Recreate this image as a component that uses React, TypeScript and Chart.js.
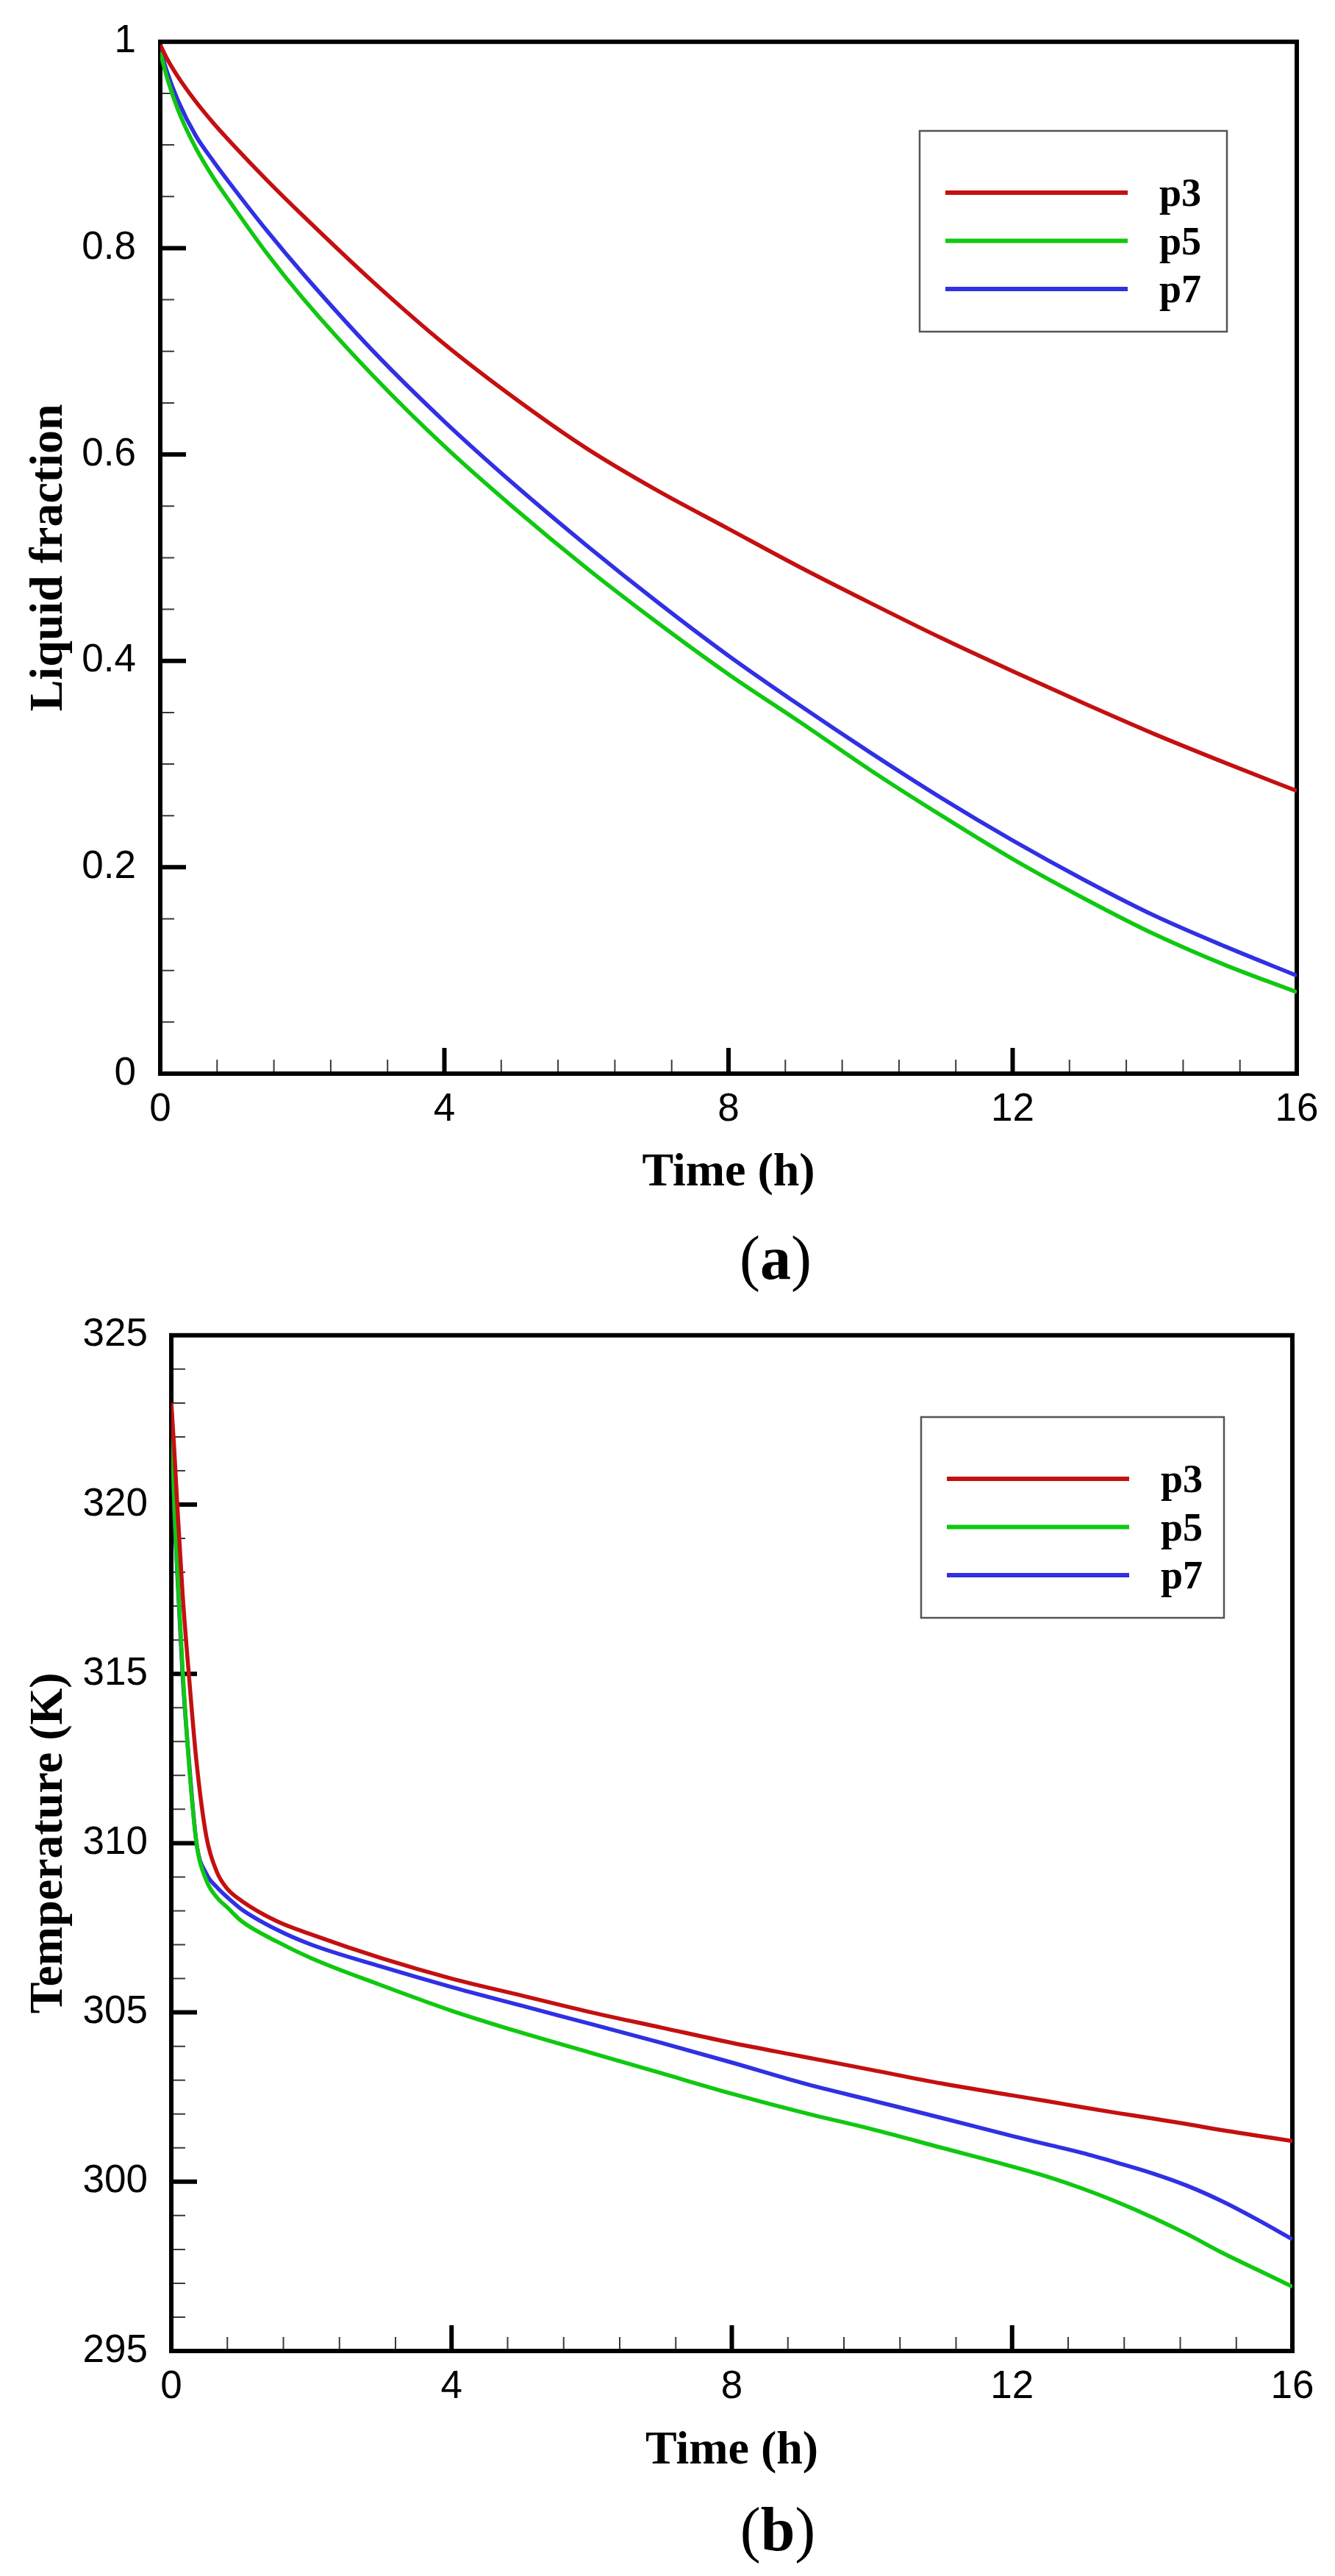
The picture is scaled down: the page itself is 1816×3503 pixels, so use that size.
import React, { useEffect, useRef } from 'react';
import { Chart, registerables } from 'chart.js';

Chart.register(...registerables);

// ---------- data ----------
const seriesNames = ['p3', 'p5', 'p7'];

// (a) liquid fraction vs time
const timeA = [0, 0.1, 0.25, 0.5, 0.75, 1, 1.5, 2, 3, 4, 5, 6, 7, 8, 9, 10, 11, 12, 13, 14, 15, 16];
const p3Liquid = [0.997, 0.983, 0.966, 0.942, 0.921, 0.902, 0.866, 0.832, 0.767, 0.707, 0.654, 0.606, 0.565, 0.528, 0.491, 0.456, 0.422, 0.39, 0.359, 0.329, 0.301, 0.274];
const p5Liquid = [0.99, 0.964, 0.934, 0.897, 0.868, 0.843, 0.795, 0.752, 0.676, 0.608, 0.547, 0.49, 0.437, 0.387, 0.341, 0.294, 0.25, 0.208, 0.17, 0.135, 0.105, 0.079];
const p7Liquid = [0.993, 0.97, 0.943, 0.909, 0.884, 0.861, 0.817, 0.776, 0.7, 0.632, 0.57, 0.512, 0.457, 0.405, 0.357, 0.311, 0.267, 0.226, 0.188, 0.153, 0.123, 0.095];

// (b) temperature vs time
const timeB = [0, 0.04, 0.08, 0.16, 0.25, 0.36, 0.5, 0.65, 0.8, 1, 1.5, 2, 3, 4, 5, 6, 7, 8, 9, 10, 11, 12, 12.5, 13, 13.5, 14, 14.5, 15, 15.5, 16];
const p3Temp = [323.0, 321.7, 320.2, 317.4, 315.0, 312.4, 310.2, 309.15, 308.65, 308.3, 307.7, 307.3, 306.6, 306.0, 305.5, 305.0, 304.55, 304.1, 303.7, 303.3, 302.9, 302.55, 302.38, 302.2, 302.03, 301.87, 301.7, 301.52, 301.36, 301.2];
const p5Temp = [323.0, 320.2, 318.3, 315.2, 312.4, 310.0, 308.9, 308.4, 308.1, 307.7, 307.1, 306.6, 305.8, 305.05, 304.4, 303.8, 303.2, 302.6, 302.05, 301.55, 301.0, 300.45, 300.15, 299.8, 299.4, 298.95, 298.45, 297.9, 297.4, 296.9];
const p7Temp = [323.0, 320.0, 318.2, 315.0, 312.5, 310.0, 309.1, 308.7, 308.4, 308.05, 307.45, 307.0, 306.35, 305.75, 305.2, 304.65, 304.1, 303.52, 302.92, 302.4, 301.88, 301.35, 301.1, 300.85, 300.56, 300.25, 299.88, 299.42, 298.88, 298.3];

// tick labels
const timeTicks = [0, 4, 8, 12, 16];
const liquidTicks = [0, 0.2, 0.4, 0.6, 0.8, 1];
const tempTicks = [295, 300, 305, 310, 315, 320, 325];

// ---------- styles ----------
const seriesColors = ['#c41010', '#10c810', '#3030e4'];
const SANS = "'Liberation Sans', Arial, sans-serif";
const SERIF = "'Liberation Serif', 'Times New Roman', serif";

const axisFrame = {
  id: 'axisFrame',
  beforeDatasetsDraw(chart: any, _args: any, opts: any) {
    const { ctx, chartArea, scales } = chart;
    const { left, right, top, bottom } = chartArea;
    const xs = scales.x;
    const ys = scales.y;
    ctx.save();
    ctx.lineCap = 'butt';
    ctx.strokeStyle = '#3a3a3a';
    ctx.lineWidth = 2;
    ctx.beginPath();
    const xr = xs.max - xs.min;
    for (let i = 1; i * opts.xMinor < xr - 1e-9; i++) {
      const px = xs.getPixelForValue(xs.min + i * opts.xMinor);
      ctx.moveTo(px, bottom);
      ctx.lineTo(px, bottom - opts.minorLen);
    }
    const yr = ys.max - ys.min;
    for (let i = 1; i * opts.yMinor < yr - 1e-9; i++) {
      const py = ys.getPixelForValue(ys.min + i * opts.yMinor);
      ctx.moveTo(left, py);
      ctx.lineTo(left + opts.minorLen, py);
    }
    ctx.stroke();
    ctx.strokeStyle = '#000';
    ctx.lineWidth = 6;
    ctx.beginPath();
    xs.ticks.forEach((t: any) => {
      if (t.value > xs.min && t.value < xs.max) {
        const px = xs.getPixelForValue(t.value);
        ctx.moveTo(px, bottom);
        ctx.lineTo(px, bottom - opts.majorLen);
      }
    });
    ys.ticks.forEach((t: any) => {
      if (t.value > ys.min && t.value < ys.max) {
        const py = ys.getPixelForValue(t.value);
        ctx.moveTo(left, py);
        ctx.lineTo(left + opts.majorLen, py);
      }
    });
    ctx.stroke();
    ctx.lineJoin = 'miter';
    ctx.lineWidth = 6;
    ctx.strokeRect(left, top, right - left, bottom - top);
    ctx.restore();
  },
};

const boxLegend = {
  id: 'boxLegend',
  afterDatasetsDraw(chart: any, _args: any, opts: any) {
    const { ctx } = chart;
    const { x, y, w, h } = opts;
    ctx.save();
    ctx.fillStyle = '#fff';
    ctx.fillRect(x, y, w, h);
    ctx.strokeStyle = '#555';
    ctx.lineWidth = 2.5;
    ctx.strokeRect(x, y, w, h);
    chart.data.datasets.forEach((ds: any, i: number) => {
      const ly = y + 84 + i * 65.5;
      ctx.strokeStyle = ds.borderColor;
      ctx.lineWidth = 6;
      ctx.beginPath();
      ctx.moveTo(x + 35, ly);
      ctx.lineTo(x + 283, ly);
      ctx.stroke();
      ctx.fillStyle = '#000';
      ctx.font = `bold 54px ${SERIF}`;
      ctx.textAlign = 'left';
      ctx.textBaseline = 'alphabetic';
      ctx.fillText(ds.label, x + 326, ly + 18);
    });
    ctx.restore();
  },
};

type PanelCfg = {
  top: number;
  height: number;
  padTop: number;
  padRight: number;
  yWidth: number;
  xHeight: number;
  yTickPad: number;
  xTitlePadBottom: number;
  yTitle: string;
  times: number[];
  series: number[][];
  yMin: number;
  yMax: number;
  yTickVals: number[];
  yMinor: number;
  legend: { x: number; y: number; w: number; h: number };
};

function Panel({ cfg }: { cfg: PanelCfg }) {
  const ref = useRef<HTMLCanvasElement>(null);
  useEffect(() => {
    const canvas = ref.current!;
    const chart = new Chart(canvas, {
      type: 'line',
      data: {
        datasets: cfg.series.map((vals, i) => ({
          label: seriesNames[i],
          data: cfg.times.map((t, j) => ({ x: t, y: vals[j] })),
          borderColor: seriesColors[i],
          backgroundColor: seriesColors[i],
          borderWidth: 5.5,
          pointRadius: 0,
          fill: false,
          cubicInterpolationMode: 'monotone',
        })),
      },
      options: {
        responsive: false,
        animation: false,
        devicePixelRatio: 1,
        layout: { padding: { top: cfg.padTop, right: cfg.padRight, left: 0, bottom: 0 } },
        plugins: {
          legend: { display: false },
          tooltip: { enabled: false },
          axisFrame: { xMinor: 0.8, yMinor: cfg.yMinor, minorLen: 19, majorLen: 35 },
          boxLegend: cfg.legend,
        } as any,
        scales: {
          x: {
            type: 'linear',
            min: 0,
            max: 16,
            grid: { display: false },
            border: { display: false },
            afterBuildTicks: (s: any) => {
              s.ticks = timeTicks.map((v) => ({ value: v }));
            },
            afterFit: (s: any) => {
              s.height = cfg.xHeight;
            },
            ticks: {
              autoSkip: false,
              maxRotation: 0,
              padding: 10,
              color: '#000',
              font: { family: SANS, size: 53, lineHeight: 1.2 },
              callback: (v: any) => `${v}`,
            },
            title: {
              display: true,
              text: 'Time (h)',
              color: '#000',
              font: { family: SERIF, size: 64, weight: 'bold', lineHeight: 1 },
              padding: { top: 0, bottom: cfg.xTitlePadBottom },
            },
          },
          y: {
            type: 'linear',
            min: cfg.yMin,
            max: cfg.yMax,
            grid: { display: false },
            border: { display: false },
            afterBuildTicks: (s: any) => {
              s.ticks = cfg.yTickVals.map((v) => ({ value: v }));
            },
            afterFit: (s: any) => {
              s.width = cfg.yWidth;
            },
            ticks: {
              autoSkip: false,
              padding: cfg.yTickPad,
              color: '#000',
              font: { family: SANS, size: 53, lineHeight: 1.2 },
              callback: (v: any) => `${+Number(v).toFixed(2)}`,
            },
            title: {
              display: true,
              text: cfg.yTitle,
              color: '#000',
              font: { family: SERIF, size: 64, weight: 'bold', lineHeight: 1 },
              padding: { top: 35, bottom: 0 },
            },
          },
        },
      } as any,
      plugins: [axisFrame, boxLegend],
    });
    return () => chart.destroy();
  }, [cfg]);
  return (
    <canvas
      ref={ref}
      width={1816}
      height={cfg.height}
      style={{ position: 'absolute', left: 0, top: cfg.top, width: 1816, height: cfg.height }}
    />
  );
}

const panelA: PanelCfg = {
  top: 0,
  height: 1660,
  padTop: 52,
  padRight: 52,
  yWidth: 218,
  xHeight: 200,
  yTickPad: 25,
  xTitlePadBottom: 33,
  yTitle: 'Liquid fraction',
  times: timeA,
  series: [p3Liquid, p5Liquid, p7Liquid],
  yMin: 0,
  yMax: 1,
  yTickVals: liquidTicks,
  yMinor: 0.05,
  legend: { x: 1251, y: 178, w: 418, h: 273 },
};

const panelB: PanelCfg = {
  top: 1760,
  height: 1640,
  padTop: 51,
  padRight: 58,
  yWidth: 233,
  xHeight: 203,
  yTickPad: 24,
  xTitlePadBottom: 35,
  yTitle: 'Temperature (K)',
  times: timeB,
  series: [p3Temp, p5Temp, p7Temp],
  yMin: 295,
  yMax: 325,
  yTickVals: tempTicks,
  yMinor: 1,
  legend: { x: 1253, y: 167, w: 412, h: 273 },
};

function Caption({ letter, centerX, top }: { letter: string; centerX: number; top: number }) {
  return (
    <div
      style={{
        position: 'absolute',
        left: centerX - 200,
        width: 400,
        top,
        textAlign: 'center',
        fontFamily: SERIF,
        fontSize: 84,
        lineHeight: 1,
        color: '#000',
      }}
    >
      (<b>{letter}</b>)
    </div>
  );
}

export default function App() {
  return (
    <div
      style={{
        position: 'absolute',
        left: 0,
        top: 0,
        width: 1816,
        height: 3503,
        background: '#fff',
        overflow: 'hidden',
      }}
    >
      <Panel cfg={panelA} />
      <Caption letter="a" centerX={1055} top={1669} />
      <Panel cfg={panelB} />
      <Caption letter="b" centerX={1058} top={3398} />
    </div>
  );
}
